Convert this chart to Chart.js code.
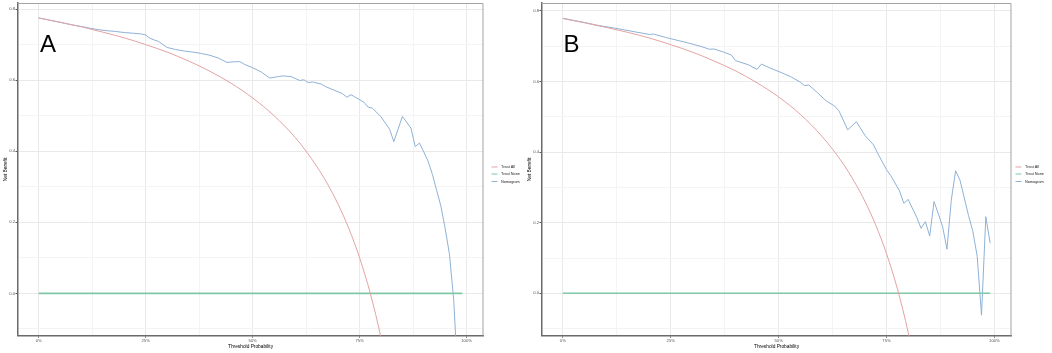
<!DOCTYPE html>
<html>
<head>
<meta charset="utf-8">
<script src="https://cdn.jsdelivr.net/npm/chart.js@4.4.1/dist/chart.umd.min.js"></script>
<style>
  html, body { margin: 0; padding: 0; background: #fff; }
  #wrap { position: relative; width: 1052px; height: 353px; }
  .panel { position: absolute; top: 0; height: 353px; }
</style>
</head>
<body>
<div id="wrap">
  <div class="panel" style="left:0;width:524px"><canvas id="graficoA" width="524" height="353"></canvas></div>
  <div class="panel" style="left:524px;width:528px"><canvas id="graficoB" width="528" height="353"></canvas></div>
</div>
<script>
// Series e eixos
const seriesNames = ['Treat All', 'Treat None', 'Nomogram'];
const seriesColors = ['#e3a3a3', '#7fc8a6', '#8fb1d6'];

const xTickValues = [0, 0.25, 0.5, 0.75, 1];
const xTickLabels = ['0%', '25%', '50%', '75%', '100%'];
const xMinorValues = [0.125, 0.375, 0.625, 0.875];
const yTickValues = [0, 0.2, 0.4, 0.6, 0.8];
const yTickLabels = ['0.0', '0.2', '0.4', '0.6', '0.8'];
const yMinorValues = [-0.1, 0.1, 0.3, 0.5, 0.7];

// Treat All
const treatAllThr = [0, 0.05, 0.10, 0.15, 0.20, 0.25, 0.30, 0.35, 0.40, 0.45, 0.50, 0.55,
  0.60, 0.625, 0.65, 0.675, 0.70, 0.725, 0.75, 0.775, 0.80, 0.82];
const treatAllA = [0.775, 0.763, 0.750, 0.735, 0.719, 0.700, 0.679, 0.654, 0.625, 0.591, 0.550, 0.500,
  0.438, 0.400, 0.357, 0.308, 0.250, 0.182, 0.100, 0.000, -0.125, -0.250];
const treatAllB = [0.778, 0.766, 0.753, 0.739, 0.723, 0.704, 0.683, 0.658, 0.630, 0.596, 0.556, 0.507,
  0.445, 0.408, 0.366, 0.317, 0.260, 0.193, 0.112, 0.013, -0.110, -0.233];

// Treat None
const treatNoneThr = [0, 0.99];
const treatNone = [0, 0];

// Nomogram - painel A
const nomogramThrA = [
  0, 0.02, 0.04, 0.06, 0.08,
  0.10, 0.12, 0.14, 0.16, 0.18,
  0.20, 0.22, 0.24, 0.25, 0.26,
  0.27, 0.28, 0.30, 0.32, 0.34,
  0.36, 0.38, 0.40, 0.42, 0.44,
  0.46, 0.47, 0.48, 0.50, 0.52,
  0.54, 0.56, 0.57, 0.59, 0.61,
  0.62, 0.63, 0.64, 0.66, 0.67,
  0.69, 0.71, 0.72, 0.73, 0.74,
  0.76, 0.77, 0.78, 0.80, 0.82,
  0.83, 0.85, 0.87, 0.88, 0.89,
  0.90, 0.91, 0.92, 0.93, 0.94,
  0.95, 0.96, 0.97, 0.98];
const nomogramA = [
  0.775, 0.770, 0.765, 0.760, 0.755,
  0.751, 0.746, 0.742, 0.739, 0.737,
  0.734, 0.732, 0.730, 0.727, 0.718,
  0.713, 0.709, 0.692, 0.686, 0.682,
  0.679, 0.675, 0.670, 0.662, 0.650,
  0.652, 0.652, 0.645, 0.635, 0.623,
  0.606, 0.610, 0.612, 0.610, 0.599,
  0.601, 0.593, 0.595, 0.589, 0.582,
  0.572, 0.562, 0.552, 0.559, 0.552,
  0.538, 0.524, 0.521, 0.497, 0.462,
  0.427, 0.498, 0.465, 0.413, 0.423,
  0.398, 0.372, 0.335, 0.290, 0.245,
  0.182, 0.110, -0.020, -0.250];

// Nomogram - painel B
const nomogramThrB = [
  0, 0.02, 0.05, 0.08, 0.12,
  0.16, 0.20, 0.21, 0.24, 0.27,
  0.29, 0.32, 0.34, 0.35, 0.37,
  0.39, 0.40, 0.43, 0.45, 0.46,
  0.48, 0.51, 0.53, 0.55, 0.56,
  0.57, 0.59, 0.61, 0.63, 0.64,
  0.66, 0.68, 0.70, 0.72, 0.73,
  0.75, 0.76, 0.78, 0.79, 0.80,
  0.82, 0.83, 0.84, 0.85, 0.86,
  0.87, 0.88, 0.89, 0.90, 0.91,
  0.92, 0.94, 0.95, 0.96, 0.97,
  0.98, 0.99];
const nomogramB = [
  0.779, 0.774, 0.767, 0.759, 0.751,
  0.742, 0.733, 0.734, 0.724, 0.715,
  0.709, 0.699, 0.691, 0.692, 0.684,
  0.675, 0.659, 0.647, 0.634, 0.649,
  0.638, 0.623, 0.612, 0.598, 0.588,
  0.590, 0.568, 0.545, 0.530, 0.516,
  0.463, 0.486, 0.447, 0.420, 0.395,
  0.350, 0.333, 0.290, 0.255, 0.266,
  0.215, 0.184, 0.203, 0.162, 0.260,
  0.225, 0.188, 0.125, 0.264, 0.347,
  0.321, 0.220, 0.175, 0.105, -0.062,
  0.217, 0.142];

const fonte = '"Liberation Sans", Arial, sans-serif';

// borda do painel, legenda e letra
const decoracao = {
  id: 'decoracao',
  afterDraw(chart, args, opts) {
    const { ctx, chartArea: a } = chart;
    ctx.save();
    ctx.strokeStyle = '#a3a3a3';
    ctx.lineWidth = 1;
    ctx.beginPath();
    ctx.moveTo(a.left, a.top + 0.5);
    ctx.lineTo(a.right - 0.5, a.top + 0.5);
    ctx.lineTo(a.right - 0.5, a.bottom);
    ctx.stroke();

    ctx.fillStyle = '#000';
    ctx.font = '24px ' + fonte;
    ctx.textBaseline = 'alphabetic';
    ctx.fillText(opts.letter, opts.letterX, 51.7);

    const ys = [167, 174, 181.5];
    ctx.font = '3.8px ' + fonte;
    ctx.textBaseline = 'middle';
    seriesNames.forEach((nome, i) => {
      ctx.strokeStyle = seriesColors[i];
      ctx.lineWidth = 1;
      ctx.beginPath();
      ctx.moveTo(491.5, ys[i]);
      ctx.lineTo(497.5, ys[i]);
      ctx.stroke();
      ctx.fillStyle = '#222';
      ctx.fillText(nome, 501, ys[i]);
    });
    ctx.restore();
  }
};

function pontos(thr, vals) {
  return thr.map((t, i) => ({ x: t, y: vals[i] }));
}

function gerarGrafico(id, letter, letterX, treatAll, nomThr, nom, yMin, yMax) {
  const xAll = xTickValues.concat(xMinorValues).sort((a, b) => a - b);
  const yAll = yTickValues.concat(yMinorValues).sort((a, b) => a - b);
  new Chart(document.getElementById(id), {
    type: 'line',
    data: {
      datasets: [
        { label: seriesNames[0], data: pontos(treatAllThr, treatAll), borderColor: seriesColors[0],
          borderWidth: 1, pointRadius: 0, cubicInterpolationMode: 'monotone' },
        { label: seriesNames[1], data: pontos(treatNoneThr, treatNone), borderColor: seriesColors[1],
          borderWidth: 1.6, pointRadius: 0 },
        { label: seriesNames[2], data: pontos(nomThr, nom), borderColor: seriesColors[2],
          borderWidth: 1, pointRadius: 0 }
      ]
    },
    options: {
      responsive: false,
      animation: false,
      devicePixelRatio: 1,
      layout: { padding: { left: 0, top: 3, right: 40.5, bottom: 0 } },
      plugins: {
        legend: { display: false },
        tooltip: { enabled: false },
        decoracao: { letter: letter, letterX: letterX }
      },
      scales: {
        x: {
          type: 'linear',
          min: -0.0495,
          max: 1.0395,
          afterBuildTicks: s => { s.ticks = xAll.map(v => ({ value: v })); },
          afterFit: s => { s.height = 17.3; },
          ticks: {
            autoSkip: false, maxRotation: 0, padding: 1,
            color: '#555', font: { family: fonte, size: 4.2 },
            callback: v => { const i = xTickValues.indexOf(v); return i >= 0 ? xTickLabels[i] : ''; }
          },
          grid: {
            color: c => xTickValues.includes(c.tick.value) ? '#e9e9e9' : '#f4f4f4',
            tickColor: c => xTickValues.includes(c.tick.value) ? '#555' : 'rgba(0,0,0,0)',
            tickLength: 2
          },
          border: { color: '#6a6a6a', width: 1.5 },
          title: { display: true, text: 'Threshold Probability', color: '#000',
            font: { family: fonte, size: 4.8 }, padding: { top: 0, bottom: 3 } }
        },
        y: {
          min: yMin,
          max: yMax,
          afterBuildTicks: s => { s.ticks = yAll.map(v => ({ value: v })); },
          afterFit: s => { s.width = 17.5; },
          ticks: {
            autoSkip: false, padding: 0.5,
            color: '#555', font: { family: fonte, size: 4.2 },
            callback: v => { const i = yTickValues.indexOf(v); return i >= 0 ? yTickLabels[i] : ''; }
          },
          grid: {
            color: c => yTickValues.includes(c.tick.value) ? '#e9e9e9' : '#f4f4f4',
            tickColor: c => yTickValues.includes(c.tick.value) ? '#555' : 'rgba(0,0,0,0)',
            tickLength: 2
          },
          border: { color: '#6a6a6a', width: 1.5 },
          title: { display: true, text: 'Net Benefit', color: '#000',
            font: { family: fonte, size: 4.8 }, padding: { top: 2.5, bottom: 0 } }
        }
      }
    },
    plugins: [decoracao]
  });
}

gerarGrafico('graficoA', 'A', 40, treatAllA, nomogramThrA, nomogramA, -0.119, 0.817);
gerarGrafico('graficoB', 'B', 39.5, treatAllB, nomogramThrB, nomogramB, -0.120, 0.822);
</script>
</body>
</html>
